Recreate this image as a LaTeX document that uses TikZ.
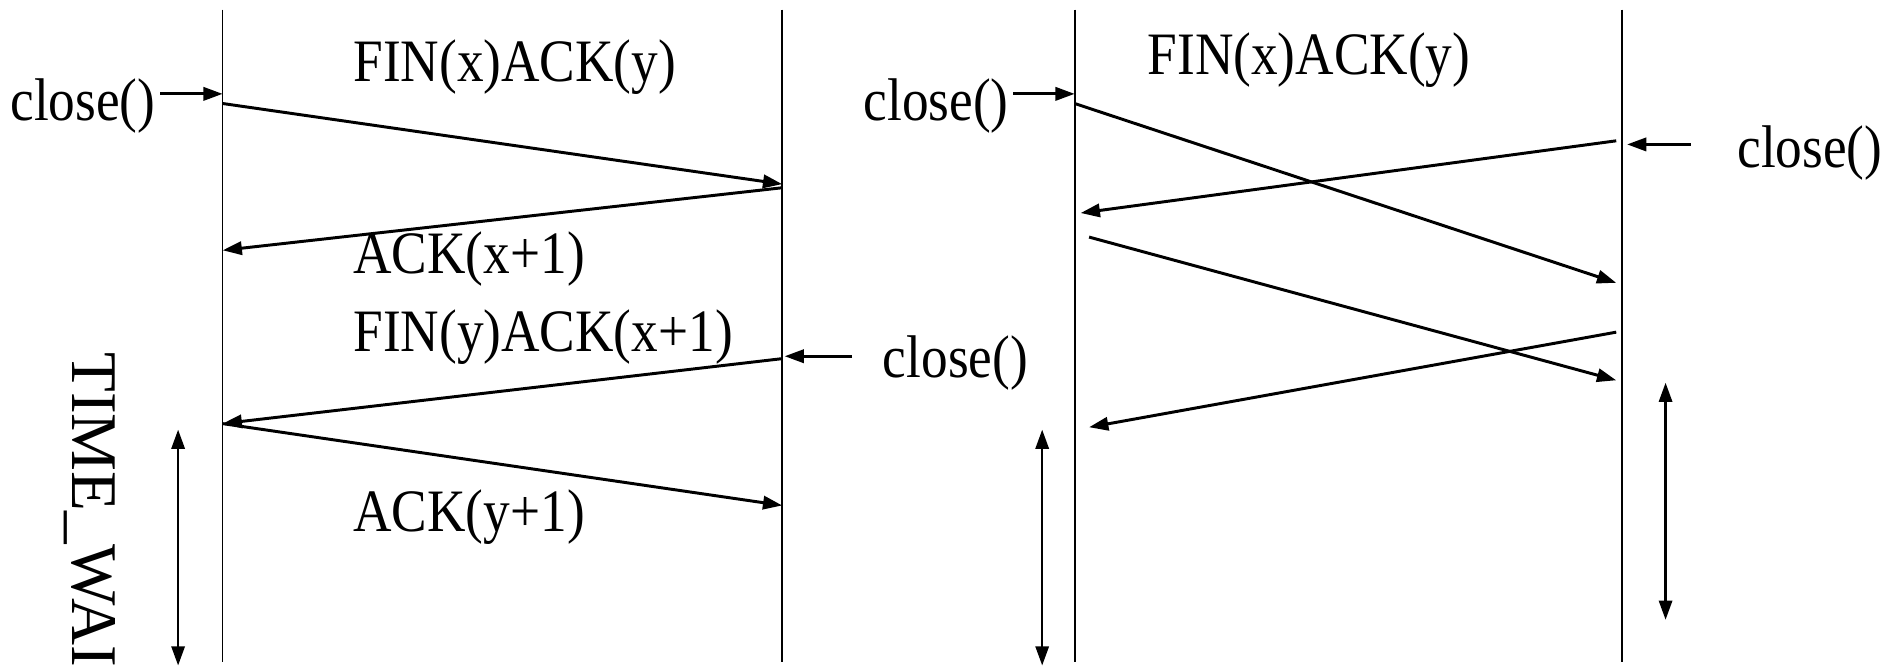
\documentclass[tikz,border=0pt]{standalone}
\usepackage{fontspec}
\setmainfont{Liberation Serif}
\usetikzlibrary{arrows.meta}

\begin{document}
\begin{tikzpicture}[x=0.1mm, y=-0.1mm,
        life/.style={line width=0.4pt},
        msg/.style={line width=0.7pt, -{Triangle[length=1.6mm, width=1.1mm]}},
        span/.style={line width=0.6pt, {Triangle[length=1.6mm, width=1.1mm]}-{Triangle[length=1.6mm, width=1.1mm]}},
        lbl/.style={font=\fontsize{12.6}{14}\selectfont, inner sep=0pt, anchor=west, yscale=1.13}]
                \clip (0,0) rectangle (1568,556);
                % left picture: lifelines
                \coordinate (A1) at (185,8);   \coordinate (A2) at (185,550);
                \coordinate (B1) at (650,8);   \coordinate (B2) at (650,550);
                \draw[life] (A1) -- (A2);
                \draw[life] (B1) -- (B2);
                % left picture: texts
                \node[lbl] (closeA) at (8,88) {close()};
                \node[lbl] (closeB) at (733,302) {close()};
                \node[lbl] (fin1) at (293,56) {FIN(x)ACK(y)};
                \node[lbl] (ack1) at (293,215) {ACK(x+1)};
                \node[lbl] (fin2) at (293,280) {FIN(y)ACK(x+1)};
                \node[lbl] (ack2) at (293,430) {ACK(y+1)};
                \node[font=\fontsize{15.4}{17}\selectfont, inner sep=0pt, anchor=base west, rotate=-90] (wait) at (60,292) {TIME\_WAI};
                % left picture: messages
                \coordinate (cA) at (133,78);  \coordinate (cAe) at (185,78);
                \coordinate (cB) at (708,296); \coordinate (cBe) at (652,296);
                \coordinate (p1) at (185,86);  \coordinate (q1) at (650,153);
                \coordinate (q2) at (650,156); \coordinate (p2) at (185,208);
                \coordinate (q3) at (650,298); \coordinate (p3) at (185,352);
                \coordinate (q4) at (650,420);
                \draw[msg] (cA) -- (cAe);
                \draw[msg] (cB) -- (cBe);
                \draw[msg] (p1) -- (q1);
                \draw[msg] (q2) -- (p2);
                \draw[msg] (q3) -- (p3);
                \draw[msg] (p3) -- (q4);
                \coordinate (wA) at (148,357); \coordinate (wB) at (148,553);
                \draw[span] (wA) -- (wB);
                % right picture: lifelines
                \coordinate (C1) at (893,8);   \coordinate (C2) at (893,550);
                \coordinate (D1) at (1348,8);  \coordinate (D2) at (1348,550);
                \draw[life] (C1) -- (C2);
                \draw[life] (D1) -- (D2);
                % right picture: texts
                \node[lbl] (closeC) at (717,88) {close()};
                \node[lbl] (closeD) at (1443,127) {close()};
                \node[lbl] (fin3) at (953,50) {FIN(x)ACK(y)};
                % right picture: messages
                \coordinate (cC) at (842,78);  \coordinate (cCe) at (893,78);
                \coordinate (cD) at (1405,120);\coordinate (cDe) at (1352,120);
                \coordinate (r1) at (893,86);  \coordinate (s1) at (1343,235);
                \coordinate (s2) at (1343,117);\coordinate (r2) at (898,177);
                \coordinate (r3) at (905,197); \coordinate (s3) at (1343,316);
                \coordinate (s4) at (1343,276);\coordinate (r4) at (905,355);
                \draw[msg] (cC) -- (cCe);
                \draw[msg] (cD) -- (cDe);
                \draw[msg] (r1) -- (s1);
                \draw[msg] (s2) -- (r2);
                \draw[msg] (r3) -- (s3);
                \draw[msg] (s4) -- (r4);
                \coordinate (wC) at (866,357); \coordinate (wD) at (866,553);
                \coordinate (wE) at (1384,318);\coordinate (wF) at (1384,515);
                \draw[span] (wC) -- (wD);
                \draw[span] (wE) -- (wF);
            \end{tikzpicture}
\end{document}
